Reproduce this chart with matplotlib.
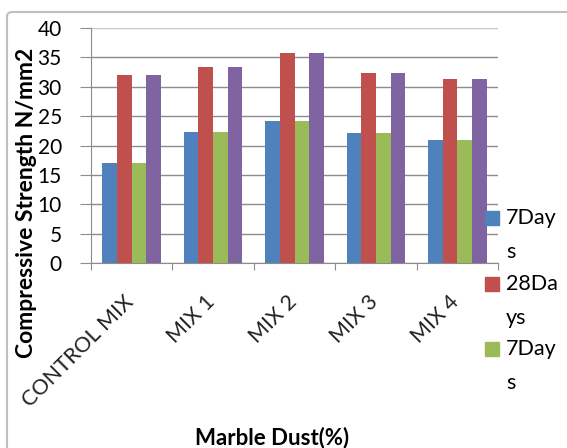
import matplotlib.pyplot as plt
import numpy as np
from matplotlib.patches import Rectangle, FancyBboxPatch

# datos
mezclas = ['CONTROL MIX', 'MIX 1', 'MIX 2', 'MIX 3', 'MIX 4']
dias7 = [17.0, 22.3, 24.1, 22.1, 21.0]
dias28 = [32.0, 33.4, 35.7, 32.3, 31.3]
dias7_b = [17.0, 22.3, 24.1, 22.1, 21.0]
dias28_b = [32.0, 33.4, 35.7, 32.3, 31.3]
etiquetas = ['7Day\ns', '28Da\nys', '7Day\ns']
colores = ['#4F81BD', '#C0504D', '#9BBB59', '#8064A2']

W, H = 567, 448
fig = plt.figure(figsize=(W / 100, H / 100), dpi=100)
plt.rcParams['font.family'] = ['Lato', 'DejaVu Sans']

# marco exterior del grafico
fig.patches.append(FancyBboxPatch((7 / W, -0.2), 1.2, 1.2 - 12 / H,
                                  boxstyle='round,pad=0,rounding_size=0.01',
                                  transform=fig.transFigure, fill=False,
                                  edgecolor='#bfbfbf', linewidth=1.5))

ax = fig.add_axes([91 / W, 1 - 263 / H, (498 - 91) / W, (263 - 28) / H])

x = np.arange(len(mezclas))
ancho = 0.18
series = [dias7, dias28, dias7_b, dias28_b]
for i, s in enumerate(series):
    ax.bar(x + (i - 1.5) * ancho, s, ancho, color=colores[i], zorder=3)

ax.set_xlim(-0.5, len(mezclas) - 0.5)
ax.set_ylim(0, 40)
ax.set_yticks(range(0, 41, 5))
ax.yaxis.grid(True, color='#8c8c8c', linewidth=1.0, zorder=0)
ax.get_ygridlines()[-1].set_color('#c8c8c8')
ax.set_xticks(np.arange(-0.5, len(mezclas), 1.0))
ax.set_xticklabels([])
ax.tick_params(axis='x', which='major', length=5, color='#8c8c8c')
ax.tick_params(axis='y', length=8, color='#8c8c8c', labelsize=15, pad=13)

# etiquetas de categoria giradas 45 grados
for xi, nombre in zip(x, mezclas):
    ax.annotate(nombre, xy=(xi, 0), xycoords=('data', 'axes fraction'),
                xytext=(-1, -36), textcoords='offset pixels', rotation=45,
                ha='right', va='center', rotation_mode='anchor',
                fontsize=15.5, color='#222222', annotation_clip=False)

for lado in ['top', 'right']:
    ax.spines[lado].set_visible(False)
for lado in ['left', 'bottom']:
    ax.spines[lado].set_color('#8c8c8c')

fig.text(27 / W, 1 - 203 / H, 'Compressive Strength N/mm2', rotation=90,
         ha='center', va='center', fontsize=16.5, fontweight='bold')
fig.text(272 / W, 1 - 438 / H, 'Marble Dust(%)', ha='center', va='center',
         fontsize=16, fontweight='bold')

# leyenda (cortada como en el original)
y0 = 218
for i, lab in enumerate(etiquetas):
    yc = y0 + i * 65.5
    fig.patches.append(Rectangle((485 / W, 1 - (yc + 7) / H), 14 / W, 14 / H,
                                 transform=fig.transFigure, color=colores[i]))
    l1, l2 = lab.split('\n')
    fig.text(506 / W, 1 - yc / H, l1, ha='left', va='center', fontsize=15.5)
    fig.text(506 / W, 1 - (yc + 34) / H, l2, ha='left', va='center', fontsize=15.5)

fig.savefig('out.png', dpi=100)
